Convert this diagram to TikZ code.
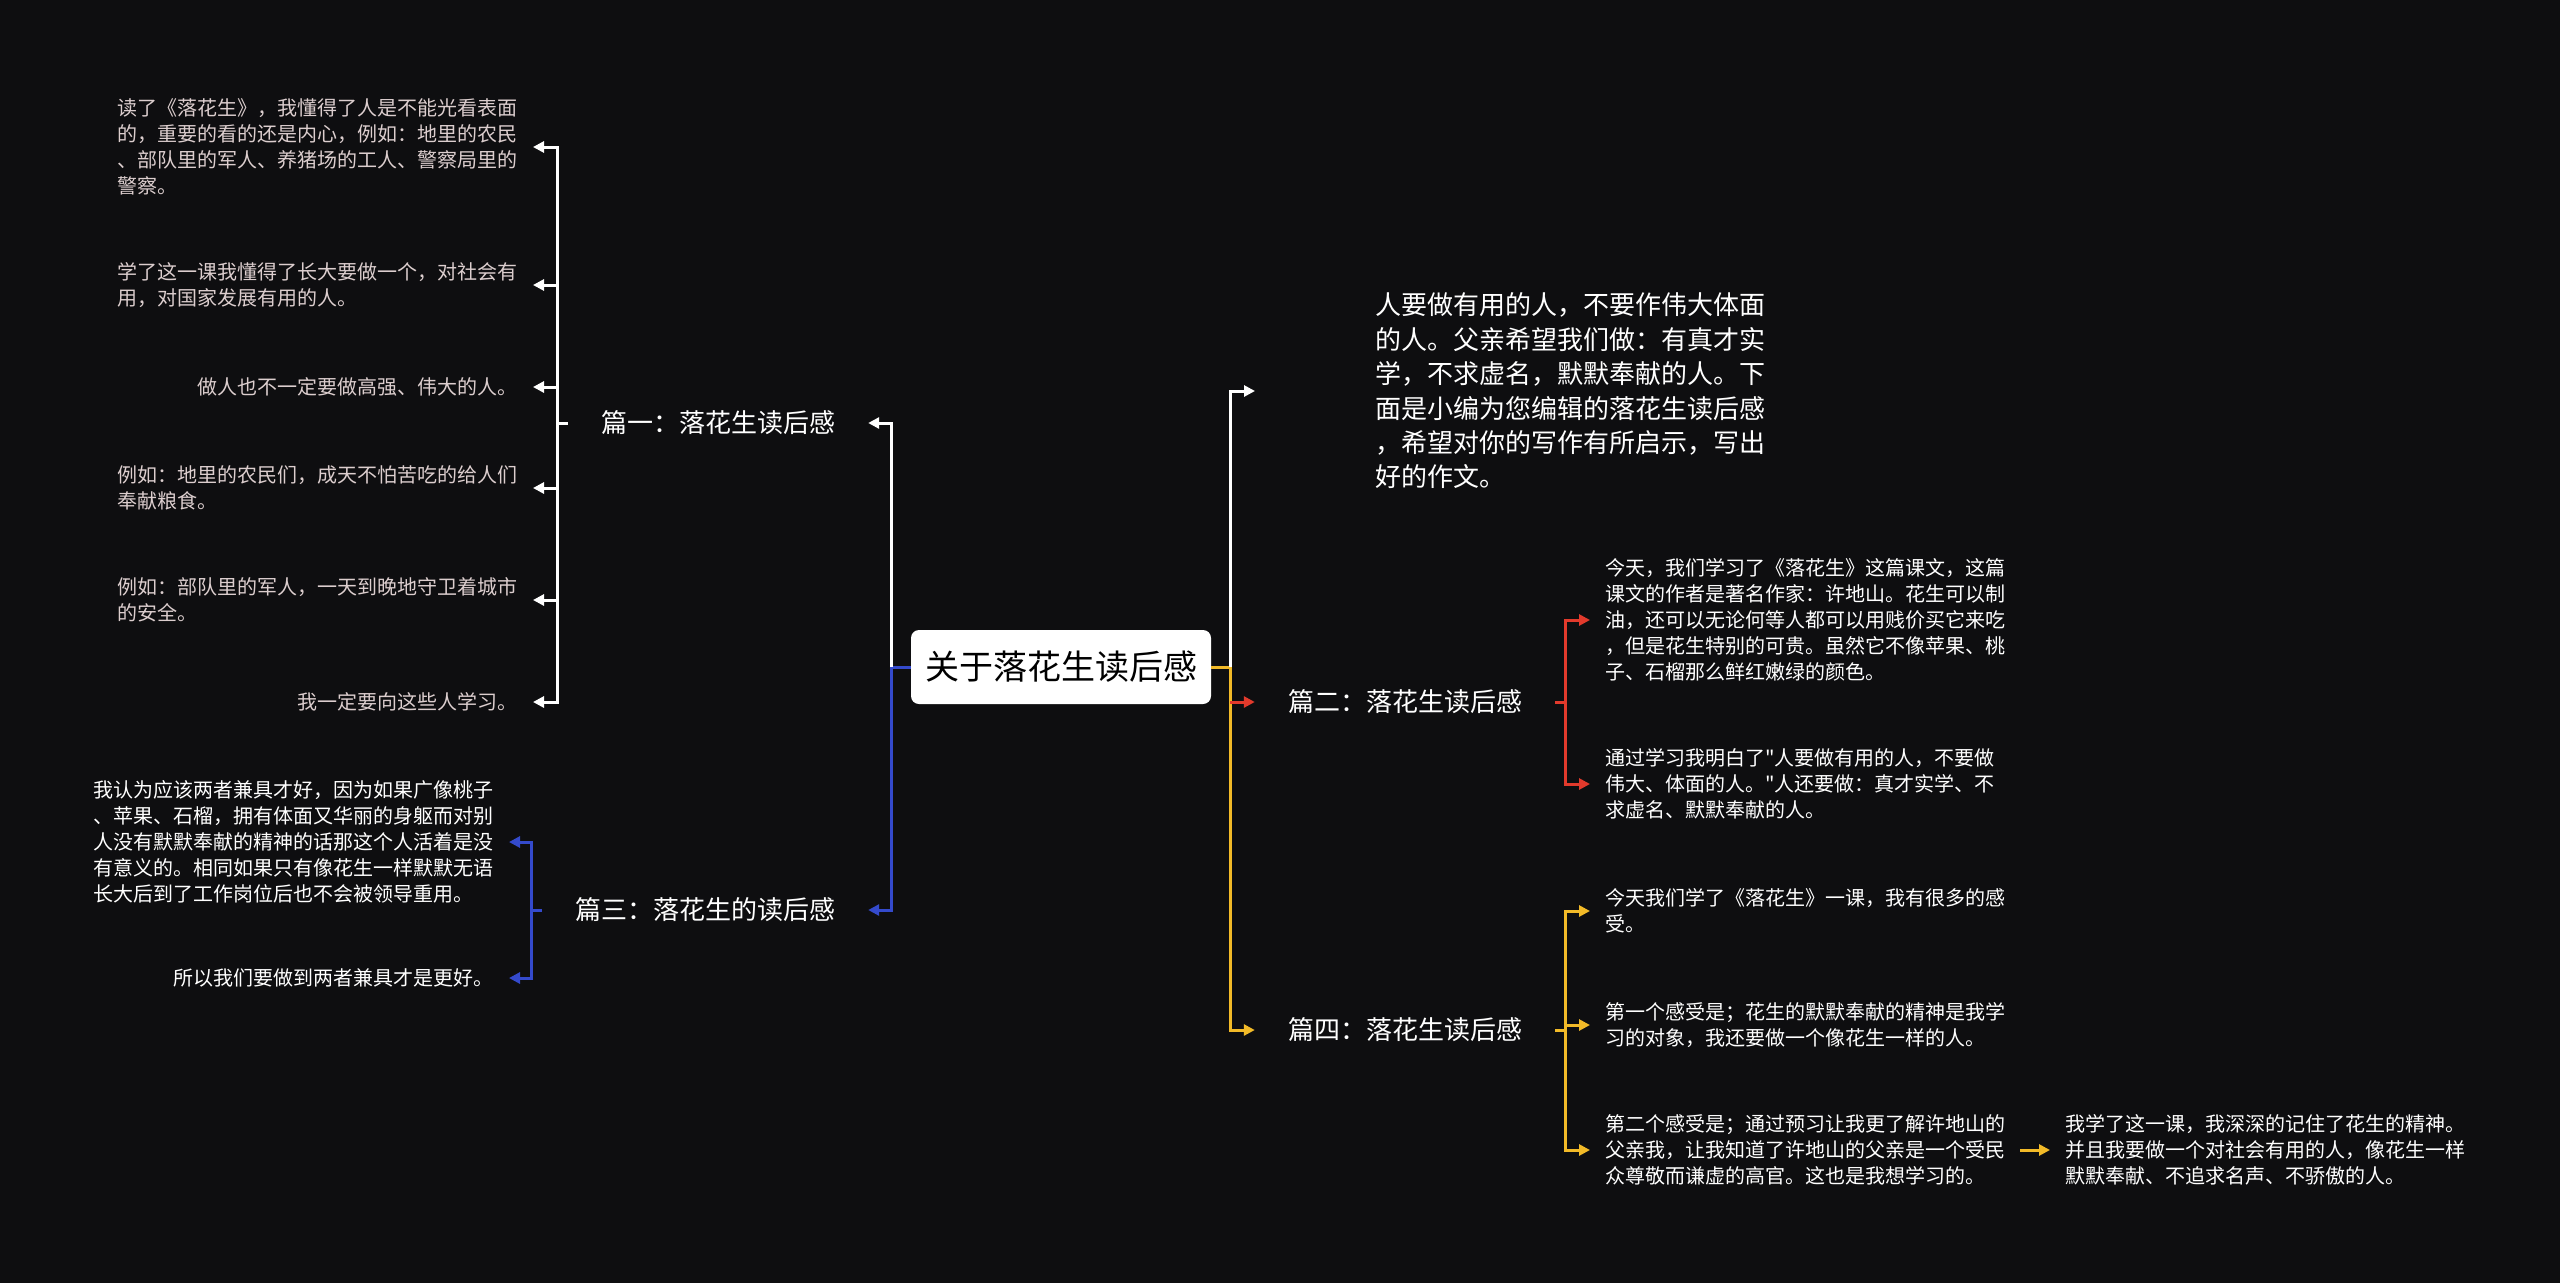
\documentclass[tikz,border=0pt]{standalone}
\usepackage{fontspec}
\setmainfont{Noto Sans CJK SC}[Ligatures=TeXOff]
\usetikzlibrary{arrows.meta}
\definecolor{bg}{RGB}{14,14,16}
\definecolor{lblue}{RGB}{52,74,204}
\definecolor{lred}{RGB}{226,58,44}
\definecolor{lyellow}{RGB}{242,186,40}
\definecolor{dimtext}{RGB}{220,206,206}
\tikzset{
  rootbox/.style={fill=white, rounded corners=8pt, text=black, font=\fontsize{34}{40}\selectfont, minimum width=300pt, minimum height=74pt, inner sep=0pt},
  topic/.style={text=white, font=\fontsize{26}{32}\selectfont, inner xsep=33pt, inner ysep=4pt},
  leaf/.style={text=white, align=left, font=\fontsize{20}{26}\selectfont, inner xsep=15pt, inner ysep=2pt},
  dimleaf/.style={leaf, text=dimtext},
  bigleaf/.style={text=white, align=left, font=\fontsize{26}{34.4}\selectfont, inner sep=0pt},
  conn/.style={line width=3pt},
  arr/.style={conn, -{Triangle[length=11pt,width=11pt]}},
}
\begin{document}
\begin{tikzpicture}[x=1pt,y=-1pt]
\fill[bg] (0,0) rectangle (2560,1283);
\useasboundingbox (0,0) rectangle (2560,1283);

% root and topics
\node[rootbox] (root) at (1061,667) {关于落花生读后感};
\node[topic] (p1) at (718,423) {篇一：落花生读后感};
\node[topic] (p2) at (1405,702) {篇二：落花生读后感};
\node[topic] (p3) at (705,910) {篇三：落花生的读后感};
\node[topic] (p4) at (1405,1030) {篇四：落花生读后感};
\node[bigleaf, anchor=west] (big) at (1375,391) {人要做有用的人，不要作伟大体面\\的人。父亲希望我们做：有真才实\\学，不求虚名，默默奉献的人。下\\面是小编为您编辑的落花生读后感\\，希望对你的写作有所启示，写出\\好的作文。};

% pian 1 leaves
\node[dimleaf, anchor=east] (a1) at (533,147) {读了《落花生》，我懂得了人是不能光看表面\\的，重要的看的还是内心，例如：地里的农民\\、部队里的军人、养猪场的工人、警察局里的\\警察。};
\node[dimleaf, anchor=east] (a2) at (533,285) {学了这一课我懂得了长大要做一个，对社会有\\用，对国家发展有用的人。};
\node[dimleaf, anchor=east] (a3) at (533,387) {做人也不一定要做高强、伟大的人。};
\node[dimleaf, anchor=east] (a4) at (533,488) {例如：地里的农民们，成天不怕苦吃的给人们\\奉献粮食。};
\node[dimleaf, anchor=east] (a5) at (533,600) {例如：部队里的军人，一天到晚地守卫着城市\\的安全。};
\node[dimleaf, anchor=east] (a6) at (533,702) {我一定要向这些人学习。};

% pian 3 leaves
\node[leaf, anchor=east] (c1) at (509,842) {我认为应该两者兼具才好，因为如果广像桃子\\、苹果、石榴，拥有体面又华丽的身躯而对别\\人没有默默奉献的精神的话那这个人活着是没\\有意义的。相同如果只有像花生一样默默无语\\长大后到了工作岗位后也不会被领导重用。};
\node[leaf, anchor=east] (c2) at (509,978) {所以我们要做到两者兼具才是更好。};

% pian 2 leaves
\node[leaf, anchor=west] (b1) at (1590,620) {今天，我们学习了《落花生》这篇课文，这篇\\课文的作者是著名作家：许地山。花生可以制\\油，还可以无论何等人都可以用贱价买它来吃\\，但是花生特别的可贵。虽然它不像苹果、桃\\子、石榴那么鲜红嫩绿的颜色。};
\node[leaf, anchor=west] (b2) at (1590,784) {通过学习我明白了"人要做有用的人，不要做\\伟大、体面的人。"人还要做：真才实学、不\\求虚名、默默奉献的人。};

% pian 4 leaves
\node[leaf, anchor=west] (d1) at (1590,911) {今天我们学了《落花生》一课，我有很多的感\\受。};
\node[leaf, anchor=west] (d2) at (1590,1025) {第一个感受是；花生的默默奉献的精神是我学\\习的对象，我还要做一个像花生一样的人。};
\node[leaf, anchor=west] (d3) at (1590,1150) {第二个感受是；通过预习让我更了解许地山的\\父亲我，让我知道了许地山的父亲是一个受民\\众尊敬而谦虚的高官。这也是我想学习的。};
\node[leaf, anchor=west] (d4) at (2050,1150) {我学了这一课，我深深的记住了花生的精神。\\并且我要做一个对社会有用的人，像花生一样\\默默奉献、不追求名声、不骄傲的人。};

% junctions
\coordinate (jl) at (891,667);
\coordinate (jr) at (1230,667);
\coordinate (k1) at (557,423);
\coordinate (k3) at (531,910);
\coordinate (k2) at (1565,702);
\coordinate (k4) at (1565,1030);

% main connectors
\draw[conn,lblue] (root.west) -- (jl);
\draw[arr,white] (jl) |- (p1.east);
\draw[arr,lblue] (jl) |- (p3.east);
\draw[conn,lyellow] (root.east) -- (jr);
\draw[arr,white] (jr) |- ([xshift=-120pt]big.west);
\draw[arr,lyellow] (jr) |- (p4.west);
\draw[arr,lred] (jr |- p2.west) -- (p2.west);

% pian 1 bracket
\draw[conn,white] (p1.west) -- (k1);
\foreach \n in {a1,a2,a3,a4,a5,a6} \draw[arr,white] (k1) |- (\n.east);
% pian 3 bracket
\draw[conn,lblue] (p3.west) -- (k3);
\foreach \n in {c1,c2} \draw[arr,lblue] (k3) |- (\n.east);
% pian 2 bracket
\draw[conn,lred] (p2.east) -- (k2);
\foreach \n in {b1,b2} \draw[arr,lred] (k2) |- (\n.west);
% pian 4 bracket
\draw[conn,lyellow] (p4.east) -- (k4);
\foreach \n in {d1,d2,d3} \draw[arr,lyellow] (k4) |- (\n.west);
\draw[arr,lyellow] (d3.east) -- (d4.west);
\end{tikzpicture}
\end{document}
